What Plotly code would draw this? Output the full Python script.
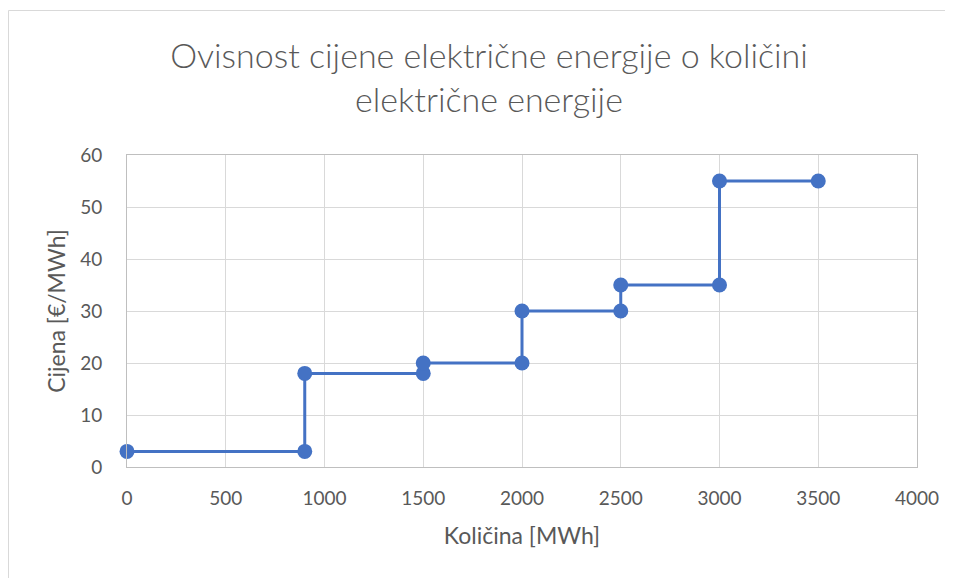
import plotly.graph_objects as go

kolicina = [0, 900, 900, 1500, 1500, 2000, 2000, 2500, 2500, 3000, 3000, 3500]
cijena = [3, 3, 18, 18, 20, 20, 30, 30, 35, 35, 55, 55]
x_ticks = [0, 500, 1000, 1500, 2000, 2500, 3000, 3500, 4000]
y_ticks = [0, 10, 20, 30, 40, 50, 60]

FONT = "Lato"
GREY = "#595959"
BLUE = "#4472C4"

fig = go.Figure()
fig.add_trace(go.Scatter(
    x=kolicina, y=cijena, mode="lines+markers",
    line=dict(color=BLUE, width=3),
    marker=dict(color=BLUE, size=15),
    showlegend=False, cliponaxis=False,
))

OFF = 8  # page body margin
W, H = 953 - OFF, 578 - OFF
L, R, T, B = 127 - OFF, 36, 155 - OFF, 111
pw, ph = W - L - R, H - T - B

def px_x(p):
    return (p - OFF - L) / pw

def px_y(p):
    return (H - B - (p - OFF)) / ph

fig.add_shape(type="rect", xref="paper", yref="paper",
              x0=px_x(8.5), x1=px_x(990), y0=px_y(600), y1=px_y(10.5),
              line=dict(color="#d9d9d9", width=1), fillcolor="rgba(0,0,0,0)",
              layer="below")

fig.update_layout(
    width=W, height=H,
    margin=dict(l=L, r=R, t=T, b=B),
    paper_bgcolor="white", plot_bgcolor="white",
    font=dict(family=FONT, color=GREY),
    title=dict(text="Ovisnost cijene električne energije o količini<br>električne energije",
               x=(489 - OFF) / W, xanchor="center", y=1 - 60 / H, yanchor="middle",
               font=dict(family=FONT, size=34, color=GREY, weight=300)),
    xaxis=dict(range=[0, 4000], tickvals=x_ticks, ticktext=[str(v) for v in x_ticks],
               showgrid=True, gridcolor="#d9d9d9", gridwidth=1,
               showline=True, linecolor="#bfbfbf", linewidth=1, mirror=True,
               zeroline=False, ticks="", ticklabelstandoff=14,
               tickfont=dict(size=19, color=GREY),
               title=dict(text="Količina [MWh]", font=dict(size=23, color=GREY), standoff=20)),
    yaxis=dict(range=[0, 60], tickvals=y_ticks, ticktext=[str(v) for v in y_ticks],
               showgrid=True, gridcolor="#d9d9d9", gridwidth=1,
               showline=True, linecolor="#bfbfbf", linewidth=1, mirror=True,
               zeroline=False, ticks="", ticklabelstandoff=20,
               tickfont=dict(size=19, color=GREY),
               title=dict(text="Cijena [€/MWh]", font=dict(size=23, color=GREY), standoff=8)),
)

fig.write_html("out.html")
